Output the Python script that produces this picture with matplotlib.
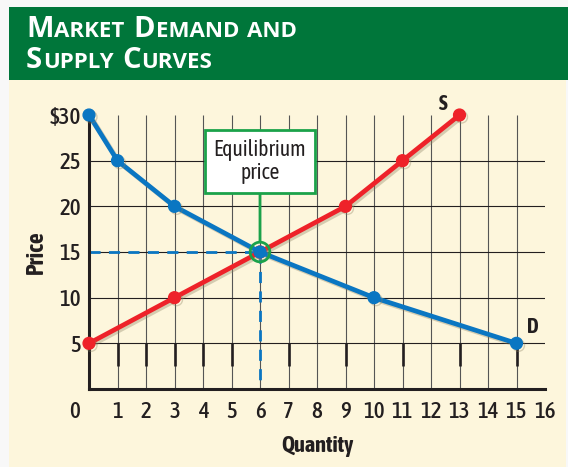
import matplotlib
matplotlib.use("Agg")
import matplotlib.pyplot as plt
from matplotlib.patches import Rectangle
import matplotlib.patheffects as pe

# data
demand_q = [0, 1, 3, 6, 10, 15]
demand_p = [30, 25, 20, 15, 10, 5]
supply_q = [0, 3, 6, 9, 11, 13]
supply_p = [5, 10, 15, 20, 25, 30]
eq_q, eq_p = 6, 15
price_ticks = [5, 10, 15, 20, 25, 30]
price_labels = ['5', '10', '15', '20', '25', '$30']
qty_ticks = list(range(1, 17))
short_ticks = [1, 2, 3, 4, 5, 7, 9, 11, 13, 15]

blue = '#0A76C2'
red = '#EE2229'
green = '#00763A'
box_green = '#1BA24A'
cream = '#FDF6DC'
ink = '#231F20'
cond = ['Asap Condensed', 'DejaVu Sans']

W, H = 568, 467
fig = plt.figure(figsize=(W / 100, H / 100), dpi=100, facecolor='#F8F8F8')

# panel background and header band
fig.patches.append(Rectangle((9 / W, 0), 557 / W, 1 - 80 / H, transform=fig.transFigure,
                             fc=cream, ec='none', zorder=-10))
fig.patches.append(Rectangle((9 / W, 1 - 80 / H), 1, 73 / H, transform=fig.transFigure,
                             fc=green, ec='none', zorder=-10))

ax = fig.add_axes([89 / W, 1 - 389 / H, 456 / W, 274 / H])
ax.set_facecolor('none')
ax.set_xlim(0, 16)
ax.set_ylim(0, 30)

# grid
ax.vlines(qty_ticks[:-1], 0, 30, color='#555555', lw=0.8, zorder=1)
ax.hlines(price_ticks[:-1], 0, 16, color=ink, lw=0.8, zorder=1)
ax.vlines(short_ticks, 2.5, 5, color=ink, lw=1.9, zorder=1)

for s in ['top', 'right']:
    ax.spines[s].set_visible(False)
for s in ['left', 'bottom']:
    ax.spines[s].set_linewidth(2.2)
    ax.spines[s].set_color(ink)

ax.set_yticks(price_ticks)
ax.set_yticklabels(price_labels)
ax.set_xticks(qty_ticks)
ax.tick_params(length=0, labelsize=16.5, colors=ink)
ax.tick_params(axis='y', pad=6)
ax.tick_params(axis='x', pad=9)
for lab in ax.get_xticklabels() + ax.get_yticklabels():
    lab.set_family(cond)
    lab.set_fontweight(500)
ax.annotate('0', xy=(-0.5, 0), xycoords=('data', 'axes fraction'), xytext=(0, -9),
            textcoords='offset points', ha='center', va='top', fontsize=16.5,
            fontweight=500, color=ink, family=cond, annotation_clip=False)

ax.set_ylabel('Price', fontsize=17, fontweight='bold', color=ink, family=cond, labelpad=1)
ax.set_xlabel('Quantity', fontsize=16, fontweight='bold', color=ink, family=cond, labelpad=8)

# dashed guides to equilibrium
ax.plot([0, eq_q], [eq_p, eq_p], color=blue, lw=2, dashes=(4, 3), zorder=2)
ax.plot([eq_q, eq_q], [eq_p, 0], color=blue, lw=2, dashes=(4, 3), zorder=2)

shadow = [pe.SimpleLineShadow(offset=(1.5, -1.5), shadow_color='#8a8060', alpha=0.35),
          pe.Normal()]
ax.plot(supply_q, supply_p, color=red, lw=3.4, marker='o', ms=8.5, clip_on=False,
        zorder=3, path_effects=shadow)
ax.plot(demand_q, demand_p, color=blue, lw=3.4, marker='o', ms=8.5, clip_on=False,
        zorder=4, path_effects=shadow)

ax.scatter([eq_q], [eq_p], s=200, facecolors='none', edgecolors=box_green, lw=2, zorder=5)

ax.annotate('Equilibrium\nprice', xy=(eq_q, eq_p), xytext=(eq_q, 24.9),
            ha='center', va='center', fontsize=15.5, color=ink, family=cond,
            linespacing=1.05,
            bbox=dict(boxstyle='square,pad=0.42', fc='white', ec=box_green, lw=2),
            arrowprops=dict(arrowstyle='-', color=box_green, lw=2, shrinkA=0, shrinkB=8),
            zorder=6)

ax.annotate('S', xy=(supply_q[-1], supply_p[-1]), xytext=(-12, 8), textcoords='offset points',
            ha='center', va='center', fontsize=15, fontweight='bold', color=ink, family=cond)
ax.annotate('D', xy=(demand_q[-1], demand_p[-1]), xytext=(11.5, 11.5), textcoords='offset points',
            ha='center', va='center', fontsize=15, fontweight='bold', color=ink, family=cond)

# header title with fake small caps
fig.canvas.draw()
r = fig.canvas.get_renderer()


def small_caps(line, x_px, base_px, big=21, small=16, gap=7):
    x = x_px
    for word in line.split():
        parts = [(word[0], big), (word[1:], small)] if word != 'AND' else [(word, small)]
        for s, size in parts:
            if not s:
                continue
            t = fig.text(x / W, 1 - base_px / H, s, fontsize=size, fontweight='bold',
                         color='white', family='Open Sans', va='baseline', ha='left')
            x = t.get_window_extent(r).x1 + 1
        x += gap


small_caps('MARKET DEMAND AND', 26, 37)
small_caps('SUPPLY CURVES', 26, 68)

fig.savefig('out.png', dpi=100, facecolor=fig.get_facecolor())
